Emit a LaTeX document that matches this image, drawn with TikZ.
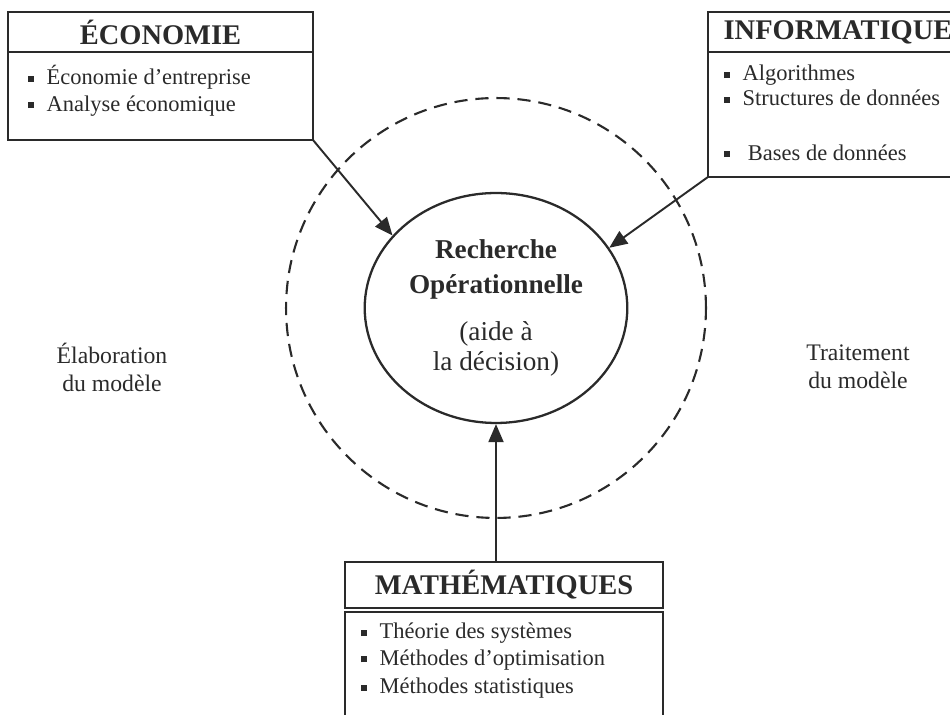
\documentclass[tikz,border=0pt]{standalone}
\usepackage{fontspec}
\setmainfont{Liberation Serif}
\usepackage{tikz}
\usetikzlibrary{arrows.meta,positioning,shapes.geometric}
\definecolor{ink}{HTML}{2A2A2A}
\newcommand{\puce}{\rule[0.28ex]{3.4pt}{3.4pt}\hspace{0.55em}}

\begin{document}
\begin{tikzpicture}[
    x=0.02cm, y=-0.02cm,
    head/.style={rectangle, draw=ink, line width=1.1pt, text=ink, inner sep=0pt, outer sep=0pt, font=\fontsize{16.2}{18}\selectfont\bfseries},
    body/.style={rectangle, draw=ink, line width=1.1pt, inner sep=0pt, outer sep=0pt},
    items/.style={align=left, text=ink, inner sep=0pt, font=\fontsize{12.8}{14}\selectfont},
    side/.style={align=center, text=ink, font=\fontsize{13.5}{16}\selectfont},
    arrow/.style={-{Triangle[length=3.6mm, width=3mm]}, draw=ink, line width=1.1pt}
]
\clip (0,0) rectangle (950,715);
% outer zone
\draw[ink, line width=1.2pt, dash pattern=on 7.5pt off 4.5pt] (496,308) circle [radius=4.2cm];
\node[ellipse, draw=ink, line width=1.3pt, minimum width=4.88cm, minimum height=4.6cm, align=center, text=ink, font=\fontsize{15.5}{17}\selectfont] (ro) at (496,308)
    {\textbf{Recherche}\\[3pt] \textbf{Opérationnelle}\\[10pt] (aide à\\ la décision)};
% economie
\node[head, minimum width=6.1cm, minimum height=0.8cm] (ecohead) at (160.5,32) {ÉCONOMIE};
\node[body, minimum width=6.1cm, minimum height=1.76cm, below=0pt of ecohead] (ecobody) {};
\node[items, anchor=north west] (ecoitems) at (28,65) {\puce Économie d'entreprise\\[1pt] \puce Analyse économique};
% informatique
\node[head, minimum width=5.2cm, minimum height=0.8cm] (infohead) at (838,32) {INFORMATIQUE};
\node[body, minimum width=5.2cm, minimum height=2.5cm, below=0pt of infohead] (infobody) {};
\node[items, anchor=north west] (infoitems) at (724,65) {\puce Algorithmes\\ \puce Structures de données\\[17pt] \puce\hspace{3pt}Bases de données};
% mathematiques
\node[head, minimum width=6.36cm, minimum height=0.92cm] (mathhead) at (504,585) {MATHÉMATIQUES};
\node[body, minimum width=6.36cm, minimum height=2.6cm, below=0.08cm of mathhead] (mathbody) {};
\node[items, anchor=north west] (mathitems) at (361,623) {\puce Théorie des systèmes\\[1pt] \puce Méthodes d'optimisation\\[2pt] \puce Méthodes statistiques};
% side labels
\node[side] (elab) at (112,367) {Élaboration\\du modèle};
\node[side] (trait) at (858,367) {Traitement\\du modèle};
% arrows
\draw[arrow] (ecobody.south east) -- (ro.145);
\draw[arrow] (infobody.south west) -- (ro.28);
\draw[arrow] (ro.south |- mathhead.north) -- (ro.south);
\end{tikzpicture}
\end{document}
